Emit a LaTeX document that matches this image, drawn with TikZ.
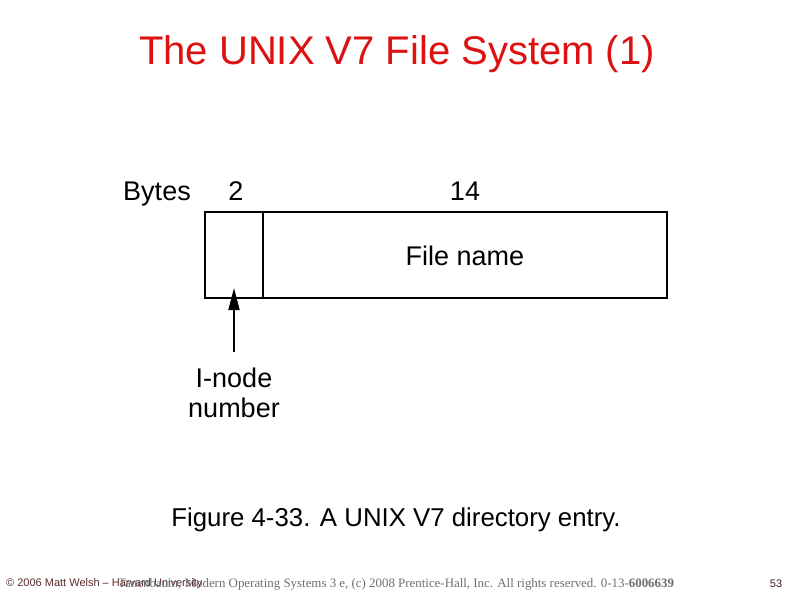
\documentclass[tikz,border=0pt]{standalone}
\usepackage{fontspec}
\setmainfont{Liberation Sans}
\newfontfamily\serifftr{Liberation Serif}
\usepackage{tikz}
\usetikzlibrary{arrows.meta,positioning}
\definecolor{cimpiros}{HTML}{DD1111}
\definecolor{labbarna}{HTML}{5A2A2A}
\definecolor{labszurke}{HTML}{6E6E6E}
\tikzset{
  mezo/.style={draw,line width=2.6pt,inner sep=0pt,outer sep=0pt},
  nyil/.style={-{Triangle[length=22pt,width=11pt]},line width=1.8pt},
  cimke/.style={inner sep=0pt,anchor=base,font=\fontsize{27pt}{30pt}\selectfont},
  lab/.style={inner sep=0pt,anchor=base west},
}
\begin{document}
\begin{tikzpicture}[x=1pt,y=-1pt]
  \useasboundingbox (0,0) rectangle (794,595);
  % title
  \node[inner sep=0pt,anchor=base,text=cimpiros,font=\fontsize{40pt}{44pt}\selectfont]
    (cim) at (397,64) {The UNIX V7 File System (1)};
  % directory entry
  \node[mezo,minimum width=58pt,minimum height=86pt] (inode) at (234,255) {};
  \node[mezo,minimum width=404pt,minimum height=86pt,anchor=west] (fnev) at (inode.east) {};
  \node[cimke] at (fnev.center |- 0,265) {File name};
  \node[cimke] (bajt) at (157,200) {Bytes};
  \node[cimke] (ketto) at (236,200) {2};
  \node[cimke] (tizen) at (465,200) {14};
  % i-node label
  \node[cimke,align=center] (lbl) at (234,417) {I-node\\number};
  \coordinate (tail) at (234,352);
  \coordinate (tip) at (234,288);
  \draw[nyil] (tail) -- (tip);
  % caption
  \node[inner sep=0pt,anchor=base,font=\fontsize{25.8pt}{28pt}\selectfont]
    (felirat) at (396,526) {Figure 4-33. A UNIX V7 directory entry.};
  % footer
  \node[lab,text=labbarna,font=\fontsize{11pt}{13pt}\selectfont] (szerzo) at (6,586)
    {\textcopyright{} 2006 Matt Welsh -- Harvard University};
  \node[lab,text=labszurke,font=\serifftr\fontsize{12.9pt}{14pt}\selectfont] (konyv) at (118,587)
    {Tanenbaum, Modern Operating Systems 3 e, (c) 2008 Prentice-Hall, Inc. All rights reserved. 0-13-\textbf{6006639}};
  \node[inner sep=0pt,anchor=base,text=labbarna!70!black,font=\fontsize{11pt}{13pt}\selectfont]
    (oldal) at (776,587) {53};
\end{tikzpicture}
\end{document}
